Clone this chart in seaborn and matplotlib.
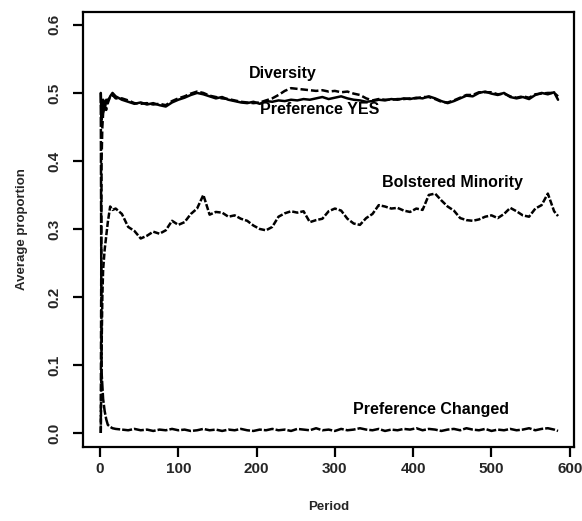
import numpy as np
import pandas as pd
import matplotlib
matplotlib.use("Agg")
import matplotlib.pyplot as plt
import seaborn as sns

# ---- data ----
periods = [1, 2, 3, 4, 6, 8, 10, 13, 16, 20] + list(range(28, 581, 8)) + [585]

pref_yes = [0.50, 0.46, 0.47, 0.49, 0.475, 0.49, 0.485, 0.495, 0.50, 0.495,
            0.490, 0.487, 0.484, 0.486, 0.483, 0.485, 0.482, 0.480, 0.486, 0.490,
            0.493, 0.497, 0.500, 0.498, 0.495, 0.492, 0.494, 0.490, 0.488, 0.486,
            0.485, 0.487, 0.484, 0.488, 0.487, 0.489, 0.488, 0.490, 0.489, 0.491,
            0.490, 0.492, 0.494, 0.491, 0.493, 0.495, 0.492, 0.490, 0.489, 0.487,
            0.488, 0.490, 0.489, 0.491, 0.490, 0.492, 0.491, 0.493, 0.492, 0.495,
            0.492, 0.488, 0.485, 0.488, 0.492, 0.496, 0.495, 0.500, 0.502, 0.499,
            0.497, 0.500, 0.494, 0.492, 0.494, 0.491, 0.497, 0.500, 0.498, 0.501,
            0.490]

diversity = [0.0, 0.40, 0.45, 0.47, 0.48, 0.475, 0.49, 0.493, 0.497, 0.492,
             0.492, 0.489, 0.485, 0.484, 0.485, 0.483, 0.484, 0.482, 0.488, 0.492,
             0.495, 0.499, 0.502, 0.500, 0.496, 0.494, 0.492, 0.491, 0.489, 0.487,
             0.486, 0.485, 0.486, 0.489, 0.492, 0.497, 0.503, 0.507, 0.506, 0.505,
             0.504, 0.503, 0.504, 0.502, 0.503, 0.501, 0.502, 0.499, 0.497, 0.492,
             0.489, 0.491, 0.490, 0.490, 0.491, 0.491, 0.492, 0.492, 0.494, 0.494,
             0.491, 0.487, 0.486, 0.489, 0.493, 0.497, 0.497, 0.501, 0.501, 0.501,
             0.498, 0.499, 0.495, 0.493, 0.495, 0.493, 0.498, 0.499, 0.500, 0.500,
             0.495]

minority = [0.0, 0.12, 0.20, 0.24, 0.27, 0.29, 0.31, 0.333, 0.328, 0.330,
            0.322, 0.303, 0.297, 0.286, 0.290, 0.296, 0.293, 0.298, 0.312, 0.306,
            0.310, 0.322, 0.330, 0.350, 0.321, 0.325, 0.324, 0.318, 0.320, 0.315,
            0.312, 0.305, 0.300, 0.298, 0.303, 0.318, 0.323, 0.326, 0.324, 0.326,
            0.310, 0.313, 0.315, 0.326, 0.330, 0.327, 0.315, 0.308, 0.306, 0.316,
            0.322, 0.335, 0.333, 0.330, 0.331, 0.327, 0.325, 0.330, 0.328, 0.350,
            0.352, 0.342, 0.333, 0.327, 0.316, 0.313, 0.312, 0.314, 0.318, 0.320,
            0.316, 0.322, 0.331, 0.326, 0.320, 0.318, 0.330, 0.335, 0.352, 0.326,
            0.319]

pref_changed = [0.50, 0.09, 0.07, 0.05, 0.032, 0.02, 0.012, 0.009, 0.007, 0.006,
                0.005, 0.004, 0.006, 0.004, 0.005, 0.003, 0.005, 0.004, 0.006, 0.004,
                0.005, 0.003, 0.004, 0.006, 0.004, 0.005, 0.003, 0.005, 0.004, 0.006,
                0.004, 0.003, 0.005, 0.004, 0.006, 0.004, 0.005, 0.003, 0.006, 0.005,
                0.004, 0.007, 0.004, 0.005, 0.003, 0.006, 0.004, 0.005, 0.007, 0.005,
                0.004, 0.006, 0.003, 0.005, 0.004, 0.006, 0.005, 0.007, 0.004, 0.006,
                0.005, 0.003, 0.005, 0.006, 0.004, 0.007, 0.005, 0.004, 0.006, 0.003,
                0.005, 0.004, 0.006, 0.004, 0.005, 0.007, 0.004, 0.006, 0.007, 0.005,
                0.003]

series_names = ["Preference YES", "Diversity", "Bolstered Minority", "Preference Changed"]
label_period = [281, 234, 450, 423]
label_value = [0.475, 0.529, 0.369, 0.035]

x_ticks = [0, 100, 200, 300, 400, 500, 600]
y_ticks = [0.0, 0.1, 0.2, 0.3, 0.4, 0.5, 0.6]

# ---- build table ----
frames = []
for name, vals in zip(series_names, [pref_yes, diversity, minority, pref_changed]):
    frames.append(pd.DataFrame({"Period": periods, "value": vals, "series": name}))
df = pd.concat(frames, ignore_index=True)

sns.set_theme(style="ticks")
plt.rcParams["font.family"] = ["Liberation Sans", "DejaVu Sans"]
plt.rcParams["font.weight"] = "bold"

fig = plt.figure(figsize=(5.82, 5.21), dpi=100)
ax = fig.add_axes([83 / 582, (521 - 447) / 521, (574 - 83) / 582, (447 - 12) / 521])

dash_map = {
    "Preference YES": "",
    "Diversity": (3, 1.2),
    "Bolstered Minority": (2.5, 0.8),
    "Preference Changed": (4, 0.8),
}
sns.lineplot(data=df, x="Period", y="value", style="series", dashes=dash_map,
             color="black", linewidth=1.8, legend=False, ax=ax, estimator=None)

for name, px, py in zip(series_names, label_period, label_value):
    ax.text(px, py, name, ha="center", va="center", fontsize=11.5,
            fontweight="bold", color="black")

ax.set_xlim(-21.7, 605.4)
ax.set_ylim(-0.0206, 0.619)
ax.set_xticks(x_ticks)
ax.set_xticklabels([str(t) for t in x_ticks])
ax.set_yticks(y_ticks)
ax.set_yticklabels([f"{t:.1f}" for t in y_ticks], rotation=90, va="center")

for sp in ax.spines.values():
    sp.set_visible(True)
    sp.set_linewidth(1.6)
    sp.set_color("black")

ax.tick_params(axis="both", which="major", length=7.5, width=1.6, color="black",
               labelsize=11, direction="out")
ax.tick_params(axis="y", pad=8)
ax.tick_params(axis="x", pad=3)

ax.set_xlabel("Period", fontsize=9.5, fontweight="bold", labelpad=18)
ax.set_ylabel("Average proportion", fontsize=9.5, fontweight="bold", labelpad=14)

fig.savefig("out.png", dpi=100)
